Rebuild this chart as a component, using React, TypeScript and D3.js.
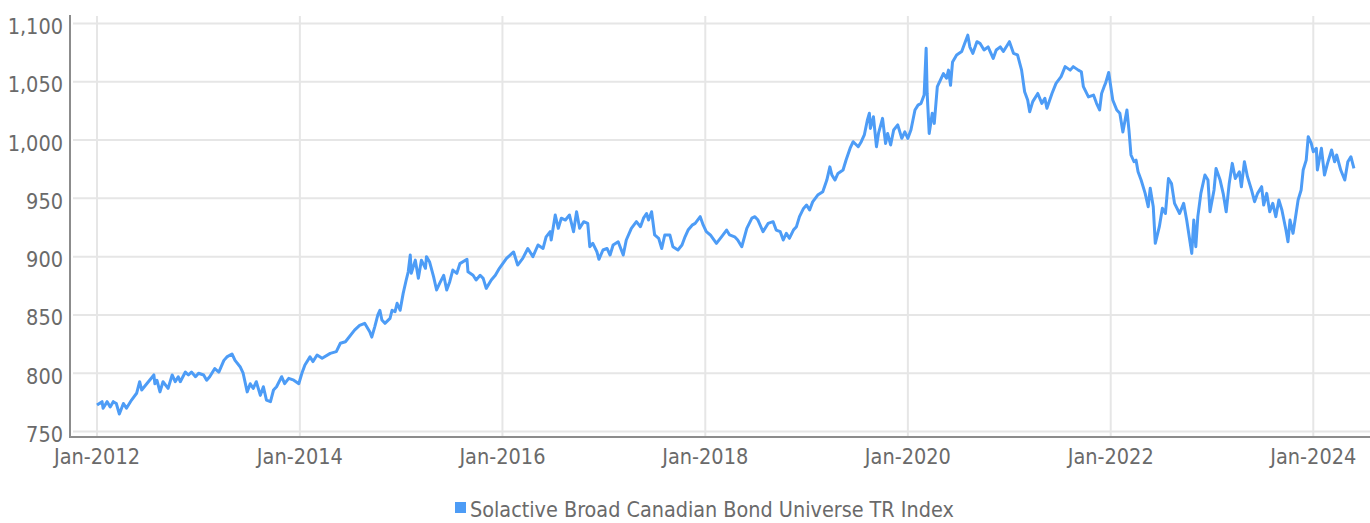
import React from "react";
import * as d3 from "d3";

// Solactive Broad Canadian Bond Universe TR Index (decimal years)
const dateYears = [
  2012.0, 2012.05, 2012.06, 2012.1, 2012.13, 2012.16, 2012.19, 2012.22, 2012.26, 2012.29,
  2012.34, 2012.39, 2012.42, 2012.44, 2012.49, 2012.56, 2012.57, 2012.59, 2012.62, 2012.65,
  2012.7, 2012.74, 2012.77, 2012.8, 2012.82, 2012.87, 2012.9, 2012.93, 2012.97, 2013.0,
  2013.05, 2013.08, 2013.11, 2013.16, 2013.2, 2013.25, 2013.28, 2013.33, 2013.36, 2013.41,
  2013.44, 2013.48, 2013.51, 2013.54, 2013.57, 2013.61, 2013.64, 2013.67, 2013.71, 2013.74,
  2013.77, 2013.82, 2013.85, 2013.89, 2013.94, 2013.99, 2014.02, 2014.05, 2014.1, 2014.13,
  2014.17, 2014.22, 2014.3, 2014.36, 2014.4, 2014.45, 2014.54, 2014.59, 2014.64, 2014.69,
  2014.71, 2014.74, 2014.77, 2014.79, 2014.81, 2014.84, 2014.89, 2014.91, 2014.94, 2014.96,
  2014.99, 2015.02, 2015.05, 2015.07, 2015.09, 2015.1, 2015.14, 2015.17, 2015.2, 2015.24,
  2015.25, 2015.28, 2015.32, 2015.35, 2015.38, 2015.42, 2015.45, 2015.48, 2015.51, 2015.55,
  2015.58, 2015.65, 2015.66, 2015.71, 2015.74, 2015.78, 2015.81, 2015.84, 2015.89, 2015.93,
  2015.97, 2016.04, 2016.11, 2016.15, 2016.2, 2016.25, 2016.3, 2016.35, 2016.4, 2016.43,
  2016.47, 2016.48, 2016.52, 2016.55, 2016.58, 2016.62, 2016.66, 2016.7, 2016.73, 2016.76,
  2016.8, 2016.84, 2016.86, 2016.89, 2016.93, 2016.95, 2016.99, 2017.03, 2017.06, 2017.09,
  2017.14, 2017.19, 2017.22, 2017.27, 2017.32, 2017.36, 2017.39, 2017.42, 2017.44, 2017.47,
  2017.5, 2017.54, 2017.57, 2017.6, 2017.65, 2017.68, 2017.73, 2017.77, 2017.8, 2017.83,
  2017.87, 2017.9, 2017.95, 2017.98, 2018.01, 2018.05, 2018.11, 2018.16, 2018.21, 2018.24,
  2018.29, 2018.32, 2018.36, 2018.41, 2018.46, 2018.49, 2018.52, 2018.57, 2018.62, 2018.67,
  2018.7, 2018.74, 2018.77, 2018.8, 2018.83, 2018.87, 2018.9, 2018.93, 2018.97, 2019.0,
  2019.03, 2019.06, 2019.11, 2019.16, 2019.2, 2019.23, 2019.25, 2019.28, 2019.31, 2019.36,
  2019.39, 2019.43, 2019.46, 2019.51, 2019.54, 2019.57, 2019.6, 2019.62, 2019.63, 2019.66,
  2019.69, 2019.71, 2019.75, 2019.78, 2019.8, 2019.83, 2019.86, 2019.9, 2019.94, 2019.97,
  2020.0, 2020.03, 2020.07, 2020.1, 2020.13, 2020.16, 2020.18, 2020.19, 2020.21, 2020.24,
  2020.26, 2020.29, 2020.32, 2020.35, 2020.38, 2020.4, 2020.42, 2020.44, 2020.48, 2020.53,
  2020.56, 2020.59, 2020.61, 2020.64, 2020.68, 2020.71, 2020.75, 2020.79, 2020.84, 2020.87,
  2020.91, 2020.94, 2021.0, 2021.04, 2021.08, 2021.12, 2021.15, 2021.18, 2021.2, 2021.23,
  2021.28, 2021.32, 2021.35, 2021.37, 2021.42, 2021.46, 2021.51, 2021.55, 2021.6, 2021.63,
  2021.68, 2021.71, 2021.73, 2021.78, 2021.83, 2021.86, 2021.89, 2021.91, 2021.94, 2021.95,
  2021.98, 2022.02, 2022.06, 2022.09, 2022.12, 2022.16, 2022.18, 2022.2, 2022.23, 2022.25,
  2022.27, 2022.3, 2022.34, 2022.37, 2022.39, 2022.42, 2022.44, 2022.48, 2022.51, 2022.54,
  2022.57, 2022.6, 2022.63, 2022.68, 2022.72, 2022.75, 2022.8, 2022.82, 2022.84, 2022.86,
  2022.89, 2022.93, 2022.96, 2022.98, 2023.02, 2023.04, 2023.08, 2023.11, 2023.14, 2023.17,
  2023.2, 2023.23, 2023.27, 2023.29, 2023.32, 2023.35, 2023.39, 2023.42, 2023.45, 2023.49,
  2023.51, 2023.54, 2023.57, 2023.6, 2023.63, 2023.66, 2023.69, 2023.73, 2023.75, 2023.77,
  2023.8, 2023.83, 2023.85, 2023.88, 2023.9, 2023.93, 2023.95, 2023.98, 2024.0, 2024.03,
  2024.04, 2024.08, 2024.11, 2024.14, 2024.18, 2024.21, 2024.23, 2024.27, 2024.31, 2024.34,
  2024.37, 2024.4,
];

const indexValues = [
  772.7, 775.6, 770, 775.6, 771, 775.6, 774, 765, 774, 770,
  777, 782.8, 792.7, 785.6, 791, 798.5, 791, 794, 784, 792.7,
  787, 798.5, 792.7, 797, 792.7, 801, 798.5, 801, 797, 800,
  798.5, 794, 797, 804, 801, 811, 814, 816.5, 811, 805.6,
  800, 784, 791, 787, 792.7, 781, 788.4, 777, 775.6, 785.6,
  788.4, 797, 791, 795.6, 794, 791, 800, 807, 814, 810,
  815.6, 812.8, 817, 818.5, 825.7, 827, 837, 841, 842.8, 835.6,
  831, 840, 850, 854, 845.6, 842.8, 847, 854, 852.8, 860,
  854, 868.5, 880, 887, 901.4, 885.7, 897, 881.4, 897, 890,
  900, 895.7, 882.8, 871.4, 877, 884, 871.4, 878.5, 888.5, 885.7,
  894, 897.7, 887, 884, 880, 884, 881.4, 872.8, 880, 884,
  890, 898.5, 904, 892.8, 898.5, 907, 900, 910, 907, 917,
  921.4, 914.3, 935.7, 924.3, 933, 931.4, 935.7, 921.4, 938.5, 924.3,
  930, 928.5, 908.5, 911.4, 904.2, 897.7, 905.7, 907, 901.4, 910,
  912.8, 901.4, 914.3, 924.3, 930, 925.7, 933, 937, 931.4, 938.5,
  918.6, 915.7, 907, 918.6, 918.6, 908.5, 905.7, 910, 917, 922.8,
  927, 928.5, 934.3, 927, 921.4, 918.6, 911.4, 917, 922.8, 918.6,
  917, 914.3, 908.5, 924.3, 933, 934.3, 931.4, 921.4, 928.5, 930,
  922.8, 921.4, 914.3, 920, 915.7, 922.8, 925.7, 934.3, 941.4, 944.3,
  940, 947, 952.8, 955.7, 965.7, 977, 970, 965.7, 971.4, 974.3,
  982.9, 993, 998.6, 994.3, 998.6, 1004.4, 1017, 1023, 1010, 1020,
  994.3, 1005.7, 1018.6, 997, 1005.7, 995.8, 1008.6, 1013, 1001.5, 1007,
  1001.5, 1008.6, 1025.8, 1030, 1031.5, 1038.6, 1078.7, 1040, 1005.7, 1023,
  1014.3, 1045.8, 1051.5, 1057, 1053, 1060, 1047, 1067, 1073, 1076,
  1083, 1090, 1080, 1074.4, 1084.4, 1083, 1077.3, 1080, 1070, 1077.3,
  1080, 1076, 1084.4, 1074.4, 1073, 1060, 1041.5, 1034.4, 1024.3, 1033,
  1040, 1031.5, 1035.8, 1027.3, 1040, 1048.6, 1054.4, 1063, 1060, 1063,
  1060, 1058.6, 1045.8, 1037, 1038.6, 1031.5, 1025.8, 1040, 1047, 1049,
  1058, 1034.4, 1025.8, 1023, 1007, 1025.8, 1008.6, 987.2, 981.4, 982.8,
  972.8, 965.7, 954.3, 942.8, 958.6, 942.8, 911.4, 925.7, 941.5, 937,
  967, 962.8, 945.7, 937, 945.7, 931.4, 902.8, 931.4, 908.5, 934.3,
  954.3, 970, 965.7, 938.5, 957.2, 975.7, 965.7, 954.3, 938.5, 962.8,
  980, 967, 972.8, 960, 981.4, 968.6, 957.2, 947.1, 954.3, 960,
  944.3, 954.3, 938.5, 945.7, 934.3, 948.6, 940, 922.8, 912.8, 931.4,
  920, 937, 948.6, 957.2, 974.3, 982.8, 1002.9, 997.2, 990, 992.9,
  974.3, 992.9, 970, 980, 991.5, 981.4, 987.2, 974.3, 965.7, 981.4,
  985.7, 975.7,
];

const yTicks = [750, 800, 850, 900, 950, 1000, 1050, 1100];
const xTickYears = [2012, 2014, 2016, 2018, 2020, 2022, 2024];
const seriesName = "Solactive Broad Canadian Bond Universe TR Index";

const W = 1370;
const H = 523;
const FONT = "'Liberation Sans Narrow', 'DejaVu Sans Condensed', sans-serif";
const BLUE = "#4d9cf6";
const GRID = "#e6e6e6";
const AXIS = "#8c8c8c";
const TEXT = "#6a6a6a";

const toDate = (y: number) => {
  const yr = Math.floor(y);
  const a = new Date(yr, 0, 1).getTime();
  const b = new Date(yr + 1, 0, 1).getTime();
  return new Date(a + (y - yr) * (b - a));
};

const fmtMonth = d3.timeFormat("%b-%Y");
const fmtNum = d3.format(",");

export default function App() {
  const x = d3
    .scaleTime()
    .domain([new Date(2012, 0, 1), new Date(2024, 0, 1)])
    .range([97, 1313.3]);
  const y = d3.scaleLinear().domain([750, 1100]).range([431.5, 23.5]);

  const data = dateYears.map((d, i) => ({ date: toDate(d), value: indexValues[i] }));
  const path = d3
    .line<{ date: Date; value: number }>()
    .x((d) => x(d.date))
    .y((d) => y(d.value))(data);

  const plotLeft = 70;
  const plotBottom = 437;

  return (
    <div style={{ position: "absolute", left: 0, top: 0 }}>
      <svg width={W} height={H} style={{ display: "block", background: "#fff" }}>
        {/* horizontal grid */}
        {yTicks.map((t) => (
          <line key={"h" + t} x1={plotLeft + 3} x2={W} y1={y(t)} y2={y(t)} stroke={GRID} strokeWidth={2} />
        ))}
        {/* vertical grid */}
        {xTickYears.map((yr) => (
          <line
            key={"v" + yr}
            x1={x(new Date(yr, 0, 1))}
            x2={x(new Date(yr, 0, 1))}
            y1={16}
            y2={plotBottom}
            stroke={GRID}
            strokeWidth={2}
          />
        ))}
        {/* axes */}
        <line x1={plotLeft} x2={plotLeft} y1={15} y2={plotBottom + 1} stroke={AXIS} strokeWidth={2} />
        <line x1={plotLeft} x2={W} y1={plotBottom} y2={plotBottom} stroke={AXIS} strokeWidth={2} />

        {/* y labels */}
        {yTicks.map((t) => (
          <text
            key={"yl" + t}
            x={63}
            y={y(t) + 10.5}
            textAnchor="end"
            fontFamily={FONT}
            fontSize={21.5}
            fill={TEXT}
          >
            {fmtNum(t)}
          </text>
        ))}
        {/* x labels */}
        {xTickYears.map((yr) => (
          <text
            key={"xl" + yr}
            x={x(new Date(yr, 0, 1))}
            y={464}
            textAnchor="middle"
            fontFamily={FONT}
            fontSize={21.5}
            fill={TEXT}
          >
            {fmtMonth(new Date(yr, 0, 1))}
          </text>
        ))}

        {/* series */}
        <path d={path ?? ""} fill="none" stroke={BLUE} strokeWidth={3} strokeLinejoin="round" />

        {/* legend */}
        <g transform="translate(455,502)">
          <rect x={0} y={0} width={11} height={11} fill={BLUE} />
          <text x={15} y={15} fontFamily={FONT} fontSize={21.4} fill={TEXT}>
            {seriesName}
          </text>
        </g>
      </svg>
    </div>
  );
}
